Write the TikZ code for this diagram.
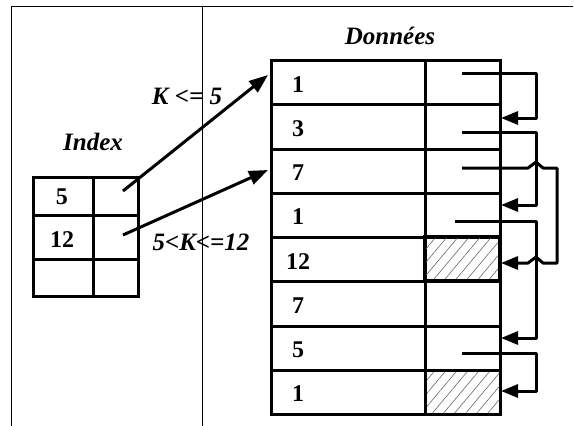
\documentclass[tikz,border=0pt]{standalone}
\usepackage{fontspec}
\setmainfont{Liberation Serif}
\usetikzlibrary{arrows.meta,patterns.meta}

\tikzset{
  cell/.style={draw=black, line width=3pt, inner sep=0pt, anchor=north west},
  hatched/.style={pattern={Lines[angle=50,distance=8.5pt,line width=0.6pt]}, pattern color=black!60},
  num/.style={font=\fontsize{24}{26}\selectfont\bfseries, anchor=base, inner sep=0pt},
  lbl/.style={font=\fontsize{25}{27}\selectfont\bfseries\itshape, anchor=base, inner sep=0pt},
  frame/.style={line width=1.3pt},
  ptr/.style={line width=3pt, line join=round, -{Triangle[length=17pt,width=13pt]}},
  link/.style={line width=3pt, -{Triangle[length=19pt,width=14pt]}}
}

\begin{document}
\begin{tikzpicture}[x=1pt, y=-1pt]
  \useasboundingbox (0,0) rectangle (574,426);

  % page frame and separator
  \draw[frame] (11.7,426) -- (11.7,6.5) -- (573,6.5);
  \draw[frame] (202.7,6.5) -- (202.7,426);

  % data file: 8 records (key | next pointer)
  \foreach \v [count=\i] in {1,3,7,1,12,7,5,1} {
    \pgfmathsetmacro{\top}{59+(\i-1)*44.25}
    \node[cell, minimum width=154.5pt, minimum height=44.25pt] (k\i) at (269.5,\top) {};
    \node[cell, minimum width=75pt, minimum height=44.25pt] (p\i) at (424,\top) {};
    \node[num] (t\i) at (298,\top+33.1) {\v};
  }
  % free slots
  \node[cell, hatched, minimum width=75pt, minimum height=44.25pt] at (p5.north west) {};
  \node[cell, hatched, minimum width=75pt, minimum height=44.25pt] at (p8.north west) {};

  \node[lbl] (donnees) at (390,44) {Données};

  % index table
  \node[cell, minimum width=60pt, minimum height=38pt] (i11) at (32,176) {};
  \node[cell, minimum width=45pt, minimum height=38pt] (i12) at (92,176) {};
  \node[cell, minimum width=60pt, minimum height=44pt] (i21) at (32,214) {};
  \node[cell, minimum width=45pt, minimum height=44pt] (i22) at (92,214) {};
  \node[cell, minimum width=60pt, minimum height=37pt] (i31) at (32,258) {};
  \node[cell, minimum width=45pt, minimum height=37pt] (i32) at (92,258) {};
  \node[num] (ik1) at (62,204) {5};
  \node[num] (ik2) at (62,247) {12};
  \node[lbl] (index) at (93,150) {Index};

  % index entries pointing into the data file
  \coordinate (ia) at (123,191);
  \coordinate (ib) at (123,235);
  \coordinate (ta) at (268,75);
  \coordinate (tb) at (268,170);
  \draw[link] (ia) -- (ta);
  \draw[link] (ib) -- (tb);
  \node[lbl] (c1) at (187,104) {K <= 5};
  \node[lbl] (c2) at (201,250) {5<K<=12};

  % chaining pointers between records
  \coordinate (s1) at (462,73);   \coordinate (e1) at (501,118);
  \coordinate (s2) at (462,132);  \coordinate (e2) at (501,205);
  \coordinate (s3) at (462,168);  \coordinate (e3) at (501,263);
  \coordinate (s4) at (455,221);  \coordinate (e4) at (501,338);
  \coordinate (s7) at (462,353);  \coordinate (e7) at (501,391);

  \draw[ptr] (s1) -- (536,73) |- (e1);
  \draw[ptr] (s2) -- (536,132) |- (e2);
  \draw[ptr] (s4) -- (536,221) |- (e4);
  \draw[ptr] (s7) -- (536,353) |- (e7);
  % this one hops over the vertical runs it crosses
  \draw[ptr] (s3) -- (528,168) -- (536,162) -- (543,168) -- (557,168)
             -- (557,263) -- (543,263) -- (536,257) -- (528,263) -- (e3);
\end{tikzpicture}
\end{document}
